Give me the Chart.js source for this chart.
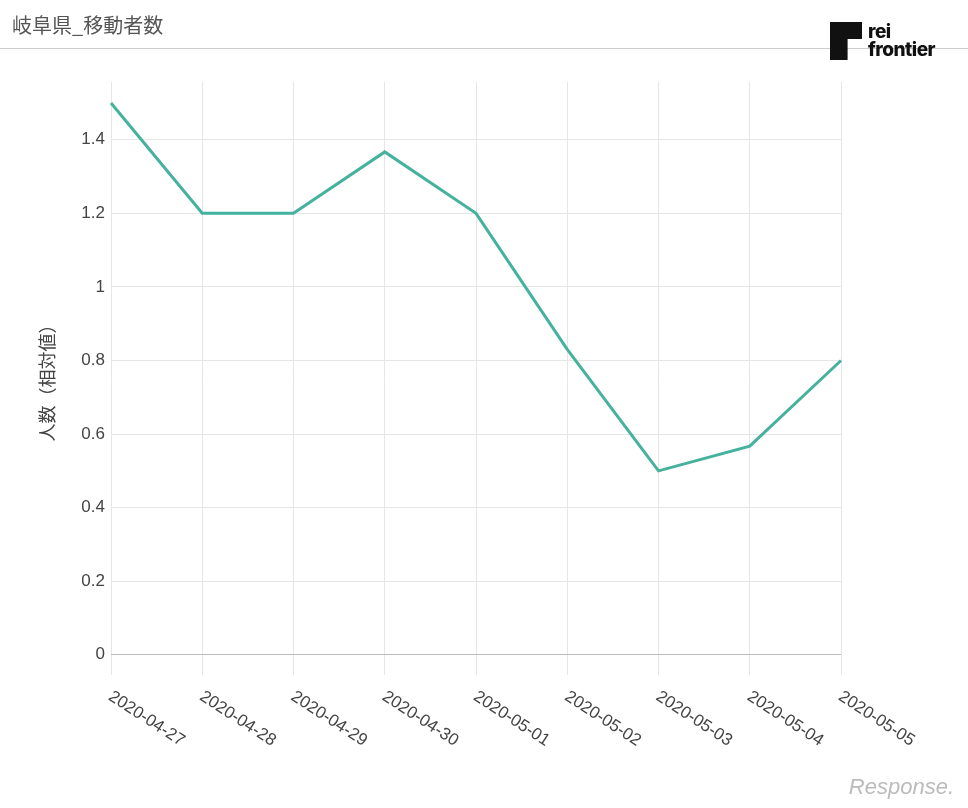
<!DOCTYPE html>
<html><head><meta charset="utf-8">
<script src="https://cdn.jsdelivr.net/npm/chart.js@4"></script>
<style>
body{margin:0;background:#fff;font-family:"Noto Sans CJK JP","Liberation Sans",sans-serif;}
#wrap{position:relative;width:968px;height:808px;}
#title{position:absolute;left:12px;top:10px;font-size:20px;color:#555;}
#rule{position:absolute;left:0;top:48px;width:968px;height:1px;background:#ccc;}
#logo{position:absolute;left:830px;top:22px;display:flex;align-items:center;}
#logo .sq{width:32px;height:38px;background:#111;clip-path:polygon(0 0,100% 0,100% 45%,55% 45%,55% 100%,0 100%);margin-right:6px;}
#logo .tx{font-family:Inter,Roboto,sans-serif;font-weight:800;font-size:19px;line-height:18px;color:#111;letter-spacing:-0.5px;}
#resp{position:absolute;right:14px;bottom:8px;font-family:"Liberation Sans",sans-serif;font-style:italic;font-size:22px;color:#bbb;}
canvas{position:absolute;left:0;top:0;}
</style></head><body>
<div id="wrap">
<canvas id="c" width="968" height="808"></canvas>
<div id="title">岐阜県_移動者数</div><div id="rule"></div>
<div id="logo"><div class="sq"></div><div class="tx">rei<br>frontier</div></div>
<div id="resp">Response.</div>
</div>
<script>
const categories=["2020-04-27","2020-04-28","2020-04-29","2020-04-30","2020-05-01","2020-05-02","2020-05-03","2020-05-04","2020-05-05"];
const values=[1.5,1.2,1.2,1.367,1.2,0.83,0.5,0.567,0.8];
const yTicks=[0,0.2,0.4,0.6,0.8,1,1.2,1.4];
const xLabelPlugin={id:'xl',afterDraw(ch){const c=ch.ctx,s=ch.scales.x;c.save();c.font='17px "Liberation Sans", sans-serif';c.fillStyle='#444';c.textAlign='left';c.textBaseline='middle';
categories.forEach((t,i)=>{const x=s.getPixelForValue(i);c.save();c.translate(x-1,ch.chartArea.bottom+20);c.rotate(33*Math.PI/180);c.fillText(t,0,0);c.restore();});c.restore();}};
new Chart(document.getElementById('c'),{type:'line',
data:{labels:categories,datasets:[{data:values,borderColor:'#45b29d',borderWidth:3,pointRadius:0,tension:0,fill:false}]},
options:{responsive:false,animation:false,layout:{padding:{top:82,right:127,bottom:0,left:32}},
plugins:{legend:{display:false},tooltip:{enabled:false}},
scales:{
x:{offset:false,grid:{color:'#e6e6e6',drawTicks:false},border:{display:false},ticks:{display:false},afterFit(s){s.height=133;}},
y:{min:-0.055,max:1.557,afterBuildTicks(s){s.ticks=yTicks.map(v=>({value:v}));},
grid:{color:c=>c.tick&&c.tick.value===0?'#bbb':'#e6e6e6',drawTicks:false},border:{display:false},
ticks:{color:'#444',font:{size:17,family:'"Liberation Sans", sans-serif'},padding:6,callback:v=>String(Math.round(v*10)/10)},
title:{display:true,text:'人数（相対値）',color:'#444',font:{size:18,family:'"Noto Sans CJK JP"'},padding:{bottom:14}},
afterFit(s){s.width=79;}}
}},plugins:[xLabelPlugin]});
</script></body></html>
